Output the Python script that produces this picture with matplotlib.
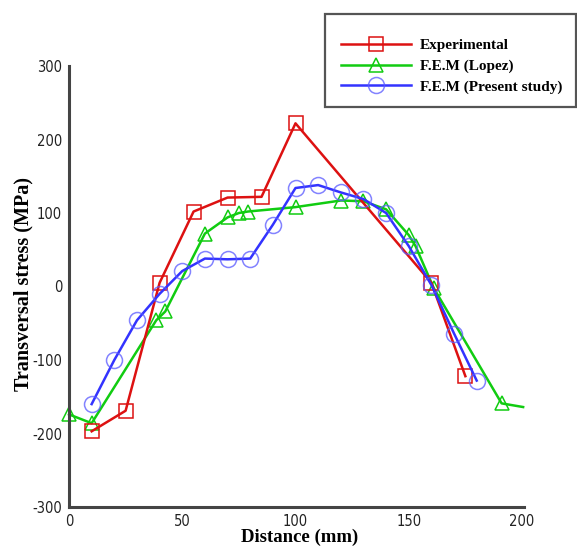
import matplotlib
matplotlib.use("Agg")
import matplotlib.pyplot as plt
from matplotlib.patches import Rectangle
from matplotlib.lines import Line2D

# Data
exp_x = [10, 25, 40, 55, 70, 85, 100, 160, 175]
exp_y = [-197, -169, 5, 102, 121, 122, 222, 5, -122]

lopez_x = [0, 10, 38.5, 42.5, 60, 70, 75, 79, 100, 120, 130, 140, 150, 153, 161, 191, 200.5]
lopez_y = [-174, -186, -46, -34, 72, 94, 100, 102, 108, 117, 116, 105, 70, 55, -2, -159, -164]
lopez_marker_idx = list(range(len(lopez_x) - 1))

fem_x = [10, 20, 30, 40, 50, 60, 70, 80, 90, 100, 110, 120, 130, 140, 150, 160, 170, 180]
fem_y = [-160, -100, -46, -10, 21, 38, 37, 38, 84, 134, 138, 128, 119, 100, 55, 2, -64, -128]

labels = ["Experimental", "F.E.M (Lopez)", "F.E.M (Present study)"]
xticks = [0, 50, 100, 150, 200]
yticks = [-300, -200, -100, 0, 100, 200, 300]
xlabel = "Distance (mm)"
ylabel = "Transversal stress (MPa)"

W, H = 577, 547
fig = plt.figure(figsize=(W / 100, H / 100), dpi=100)
ax = fig.add_axes([69 / W, 1 - 507 / H, (522 - 69) / W, (507 - 66) / H])

red = "#dd1111"
green = "#11cc11"
blue = "#3333ff"
blue_mec = (0.35, 0.35, 1.0, 0.75)

ax.plot(exp_x, exp_y, color=red, lw=1.8, marker="s", ms=10, mfc="none",
        mec=red, mew=1.1, zorder=3, clip_on=False)
ax.plot(lopez_x, lopez_y, color=green, lw=1.8, marker="^", ms=10, mfc="none",
        mec=green, mew=1.1, markevery=lopez_marker_idx, zorder=2, clip_on=False)
ax.plot(fem_x, fem_y, color=blue, lw=1.8, marker="o", ms=11.5, mfc="none",
        mec=blue_mec, mew=1.1, zorder=4, clip_on=False)

ax.set_xlim(0, 200)
ax.set_ylim(-300, 300)
ax.set_xticks(xticks)
ax.set_yticks(yticks)
tickfont = dict(family=["DejaVu Sans"], size=10.5, stretch="condensed")
ax.set_xticklabels([str(t) for t in xticks], fontdict=tickfont)
ax.set_yticklabels([str(t) for t in yticks], fontdict=tickfont)
ax.tick_params(length=0, pad=5, colors="#222222")
for s in ["top", "right"]:
    ax.spines[s].set_visible(False)
for s in ["left", "bottom"]:
    ax.spines[s].set_linewidth(2.2)
    ax.spines[s].set_color("#444444")
ax.spines["bottom"].set_bounds(0, 201)

lab_font = dict(family=["Liberation Serif", "DejaVu Serif"], size=14.5, weight="bold")
fig.text(300 / W, 1 - 537 / H, xlabel, ha="center", va="center",
         fontdict=dict(lab_font, size=13.5))
fig.text(23 / W, 1 - 284 / H, ylabel, ha="center", va="center", rotation=90,
         fontdict=lab_font)

# Legend box
rect = Rectangle((325 / W, 1 - 107 / H), (576 - 325) / W, (107 - 14) / H,
                 transform=fig.transFigure, fill=True, facecolor="white",
                 edgecolor="#555555", lw=1.6, zorder=10)
fig.patches.append(rect)

handles = [
    Line2D([], [], color=red, lw=1.8, marker="s", ms=10, mfc="none", mec=red, mew=1.1),
    Line2D([], [], color=green, lw=1.8, marker="^", ms=10, mfc="none", mec=green, mew=1.1),
    Line2D([], [], color=blue, lw=1.8, marker="o", ms=11.5, mfc="none",
           mec=blue_mec, mew=1.1),
]
leg = fig.legend(handles, labels, loc="upper left",
                 bbox_to_anchor=(333 / W, 1 - 31 / H),
                 frameon=False, handlelength=4.6, handletextpad=0.6,
                 labelspacing=0.45, borderpad=0,
                 prop=dict(family=["Liberation Serif", "DejaVu Serif"], size=11, weight="bold"))
leg.set_zorder(11)

fig.savefig("out.png", dpi=100)
